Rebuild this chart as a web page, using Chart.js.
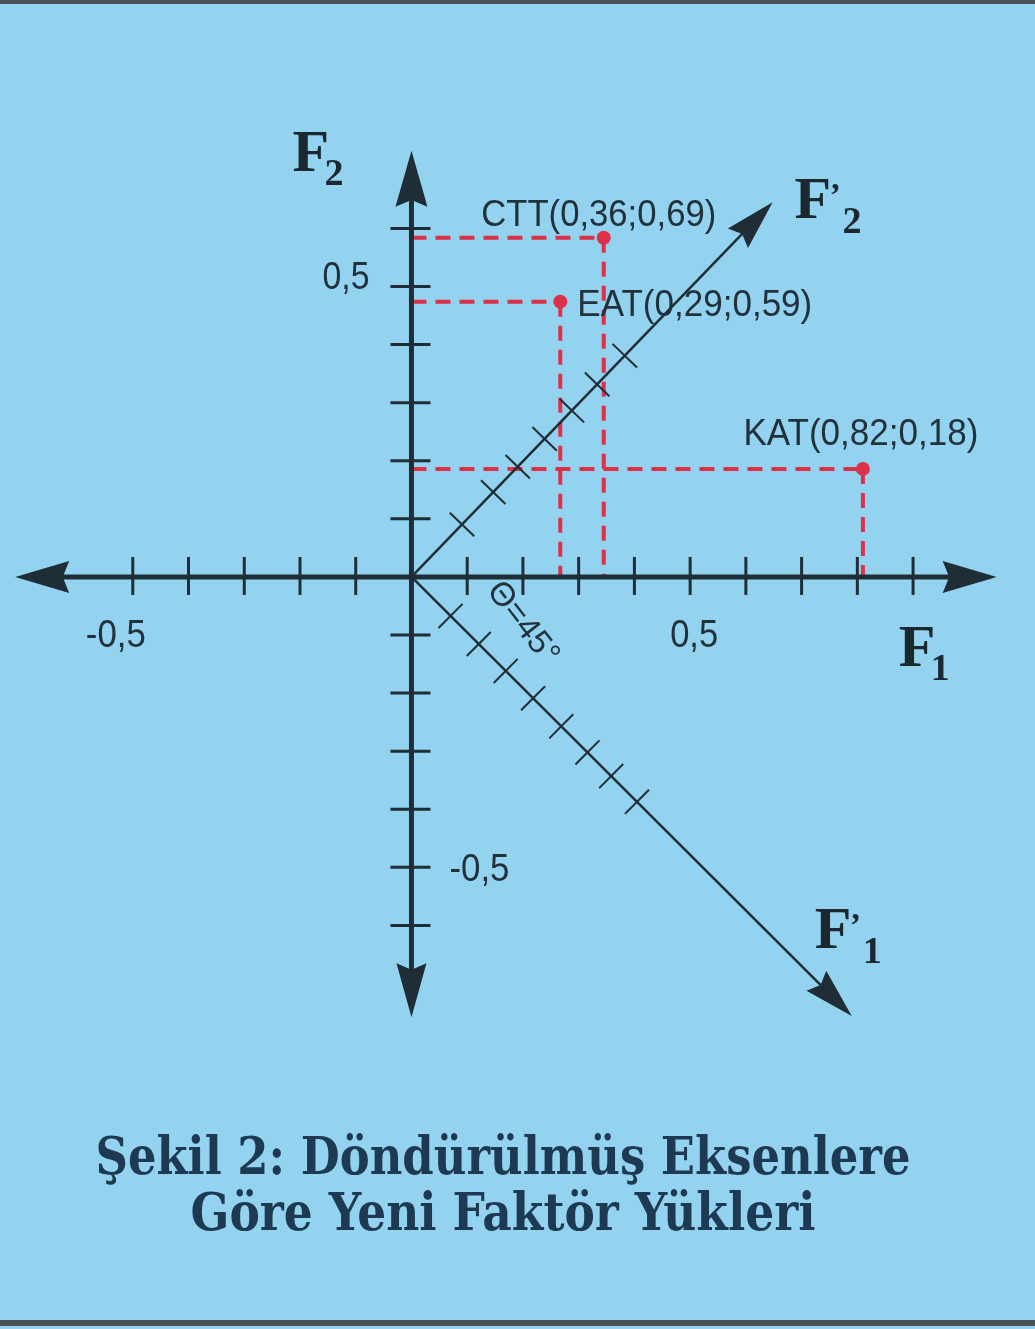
<!DOCTYPE html>
<html>
<head>
<meta charset="utf-8">
<script src="https://cdn.jsdelivr.net/npm/chart.js@4"></script>
<style>
html, body { margin: 0; padding: 0; background: #93d3ef; }
#wrap { width: 1035px; height: 1329px; position: relative; }
</style>
</head>
<body>
<div id="wrap"><canvas id="graph"></canvas></div>
<script>
// loadings as plotted (F1, F2), labels as printed
const pointLabels = ['CTT(0,36;0,69)', 'EAT(0,29;0,59)', 'KAT(0,82;0,18)'];
const f1Values = [0.345, 0.267, 0.81];
const f2Values = [0.584, 0.474, 0.186];

const xTickValues = [-0.5, -0.4, -0.3, -0.2, -0.1, 0.1, 0.2, 0.3, 0.4, 0.5, 0.6, 0.7, 0.8, 0.9];
const yTickValues = [-0.6, -0.5, -0.4, -0.3, -0.2, -0.1, 0.1, 0.2, 0.3, 0.4, 0.5, 0.6];
const labeledTicks = [-0.5, 0.5];
const tickLabelTexts = ['-0,5', '0,5'];

// rotated axes (theta = 45 deg): arrow tips and tick distances along them
const f1PrimeTip = [0.79, -0.756];
const f2PrimeTip = [0.648, 0.645];
const f1PrimeTicks = [0.097, 0.167, 0.234, 0.302, 0.372, 0.437, 0.496, 0.56];
const f2PrimeTicks = [0.128, 0.207, 0.269, 0.337, 0.406, 0.47, 0.54];

const xAxisEnds = [-0.711, 1.05];
const yAxisEnds = [-0.758, 0.734];

const titleLines = ['Şekil 2: Döndürülmüş Eksenlere', 'Göre Yeni Faktör Yükleri'];
const angleText = 'Θ=45°';

const INK = '#1f2d36';
const RED = '#dd3149';
const BG = '#93d3ef';

function fitText(ctx, text, x, y, width, align) {
  const w = ctx.measureText(text).width;
  ctx.save();
  ctx.translate(x, y);
  ctx.scale(width / w, 1);
  ctx.textAlign = align;
  ctx.fillText(text, 0, 0);
  ctx.restore();
}

function arrowHead(ctx, tx, ty, ang, len, half) {
  const bx = tx - Math.cos(ang) * len, by = ty - Math.sin(ang) * len;
  const nx = -Math.sin(ang), ny = Math.cos(ang);
  const mx = tx - Math.cos(ang) * len * 0.88, my = ty - Math.sin(ang) * len * 0.88;
  ctx.beginPath();
  ctx.moveTo(tx, ty);
  ctx.lineTo(bx + nx * half, by + ny * half);
  ctx.lineTo(mx, my);
  ctx.lineTo(bx - nx * half, by - ny * half);
  ctx.closePath();
  ctx.fill();
}

function axisLabel(ctx, x, y, sub, prime) {
  ctx.fillStyle = '#1b2830';
  ctx.textAlign = 'left';
  ctx.font = 'bold 60px "Liberation Serif", serif';
  ctx.fillText('F', x, y);
  if (prime) {
    ctx.font = 'bold 34px "Liberation Serif", serif';
    ctx.fillText('\u2019', x + 35, y - 12);
    ctx.font = 'bold 38px "Liberation Serif", serif';
    ctx.fillText(sub, x + 48, y + 15);
  } else {
    ctx.font = 'bold 38px "Liberation Serif", serif';
    ctx.fillText(sub, x + 32, y + 14);
  }
}

const figure = {
  id: 'figure',
  beforeDraw(chart) {
    const ctx = chart.ctx;
    ctx.save();
    ctx.fillStyle = BG;
    ctx.fillRect(0, 0, chart.width, chart.height);
    ctx.fillStyle = '#4a5056';
    ctx.fillRect(0, 0, chart.width, 4);
    ctx.fillRect(0, chart.height - 9, chart.width, 6);
    ctx.restore();
  },
  beforeDatasetsDraw(chart) {
    const ctx = chart.ctx;
    const xs = chart.scales.x, ys = chart.scales.y;
    const ox = xs.getPixelForValue(0), oy = ys.getPixelForValue(0);
    ctx.save();

    // dashed guides from each point to both axes
    ctx.strokeStyle = RED;
    ctx.lineWidth = 4;
    ctx.setLineDash([15, 9]);
    f1Values.forEach((v, i) => {
      const px = xs.getPixelForValue(v), py = ys.getPixelForValue(f2Values[i]);
      ctx.beginPath();
      ctx.moveTo(ox, py); ctx.lineTo(px, py);
      ctx.moveTo(px, py); ctx.lineTo(px, oy);
      ctx.stroke();
    });
    ctx.setLineDash([]);

    // rotated axes
    ctx.strokeStyle = INK;
    ctx.fillStyle = INK;
    [[f1PrimeTip, f1PrimeTicks], [f2PrimeTip, f2PrimeTicks]].forEach(([tip, ticks]) => {
      const tx = xs.getPixelForValue(tip[0]), ty = ys.getPixelForValue(tip[1]);
      const ang = Math.atan2(ty - oy, tx - ox);
      ctx.lineWidth = 2.5;
      ctx.beginPath(); ctx.moveTo(ox, oy); ctx.lineTo(tx - Math.cos(ang) * 30, ty - Math.sin(ang) * 30); ctx.stroke();
      arrowHead(ctx, tx, ty, ang, 50, 14);
      const dl = Math.hypot(tip[0], tip[1]);
      ctx.lineWidth = 2;
      ticks.forEach(d => {
        const cx = xs.getPixelForValue(tip[0] / dl * d), cy = ys.getPixelForValue(tip[1] / dl * d);
        const nx = -Math.sin(ang) * 17, ny = Math.cos(ang) * 17;
        ctx.beginPath(); ctx.moveTo(cx - nx, cy - ny); ctx.lineTo(cx + nx, cy + ny); ctx.stroke();
      });
    });

    // main axes
    const xl = xs.getPixelForValue(xAxisEnds[0]), xr = xs.getPixelForValue(xAxisEnds[1]);
    const yb = ys.getPixelForValue(yAxisEnds[0]), yt = ys.getPixelForValue(yAxisEnds[1]);
    ctx.lineWidth = 5;
    ctx.beginPath();
    ctx.moveTo(xl + 40, oy); ctx.lineTo(xr - 40, oy);
    ctx.moveTo(ox, yb - 40); ctx.lineTo(ox, yt + 40);
    ctx.stroke();
    arrowHead(ctx, xl, oy, Math.PI, 54, 16);
    arrowHead(ctx, xr, oy, 0, 54, 16);
    arrowHead(ctx, ox, yt, -Math.PI / 2, 56, 16);
    arrowHead(ctx, ox, yb, Math.PI / 2, 54, 15);

    ctx.lineWidth = 3;
    xTickValues.forEach(v => {
      const p = xs.getPixelForValue(v);
      ctx.beginPath(); ctx.moveTo(p, oy - 20); ctx.lineTo(p, oy + 18); ctx.stroke();
    });
    yTickValues.forEach(v => {
      const p = ys.getPixelForValue(v);
      ctx.beginPath(); ctx.moveTo(ox - 21, p); ctx.lineTo(ox + 19, p); ctx.stroke();
    });
    ctx.restore();
  },
  afterDatasetsDraw(chart) {
    const ctx = chart.ctx;
    const xs = chart.scales.x, ys = chart.scales.y;
    const ox = xs.getPixelForValue(0), oy = ys.getPixelForValue(0);
    ctx.save();
    ctx.fillStyle = '#22323d';
    ctx.font = '39px "Liberation Sans Narrow", "Liberation Sans", sans-serif';

    // tick labels
    labeledTicks.forEach((v, i) => {
      const px = xs.getPixelForValue(v);
      fitText(ctx, tickLabelTexts[i], v < 0 ? px - 17 : px + 4, oy + 70, v < 0 ? 60 : 48, 'center');
      const py = ys.getPixelForValue(v);
      if (v < 0) fitText(ctx, tickLabelTexts[i], ox + 38, py + 14, 60, 'left');
      else fitText(ctx, tickLabelTexts[i], ox - 42, py + 2, 47, 'right');
    });

    // point labels
    ctx.font = '37px "Liberation Sans Narrow", "Liberation Sans", sans-serif';
    const offs = [[-5, -12, 'center'], [17, 14, 'left'], [-2, -24, 'center']];
    pointLabels.forEach((t, i) => {
      const px = xs.getPixelForValue(f1Values[i]), py = ys.getPixelForValue(f2Values[i]);
      fitText(ctx, t, px + offs[i][0], py + offs[i][1], 235, offs[i][2]);
    });

    // angle note along F'1
    ctx.save();
    ctx.translate(ox + 104, oy + 52);
    ctx.rotate(52 * Math.PI / 180);
    ctx.font = '33px "Liberation Sans Narrow", "Liberation Sans", sans-serif';
    fitText(ctx, angleText, 0, 0, 96, 'center');
    ctx.restore();

    // axis names
    const yt = ys.getPixelForValue(yAxisEnds[1]);
    const xr = xs.getPixelForValue(xAxisEnds[1]);
    axisLabel(ctx, ox - 119, yt + 20, '2', false);
    axisLabel(ctx, xr - 98, oy + 89, '1', false);
    const t2x = xs.getPixelForValue(f2PrimeTip[0]), t2y = ys.getPixelForValue(f2PrimeTip[1]);
    axisLabel(ctx, t2x + 22, t2y + 16, '2', true);
    const t1x = xs.getPixelForValue(f1PrimeTip[0]), t1y = ys.getPixelForValue(f1PrimeTip[1]);
    axisLabel(ctx, t1x - 37, t1y - 68, '1', true);

    // caption
    ctx.fillStyle = '#1e3a52';
    ctx.font = 'bold 52px "DejaVu Serif", serif';
    fitText(ctx, titleLines[0], 503, 1174, 815, 'center');
    fitText(ctx, titleLines[1], 503, 1230, 625, 'center');
    ctx.restore();
  }
};

new Chart(document.getElementById('graph'), {
  type: 'scatter',
  data: {
    datasets: [{
      data: f1Values.map((v, i) => ({ x: v, y: f2Values[i] })),
      pointStyle: 'circle',
      pointRadius: 7,
      pointBackgroundColor: RED,
      pointBorderWidth: 0
    }]
  },
  options: {
    responsive: true,
    maintainAspectRatio: false,
    animation: false,
    devicePixelRatio: 1,
    layout: { padding: 0 },
    plugins: { legend: { display: false }, tooltip: { enabled: false } },
    scales: {
      x: { type: 'linear', min: -0.7257, max: 1.1062, display: false },
      y: { type: 'linear', min: -1.2828, max: 0.9813, display: false }
    }
  },
  plugins: [figure]
});
</script>
</body>
</html>
